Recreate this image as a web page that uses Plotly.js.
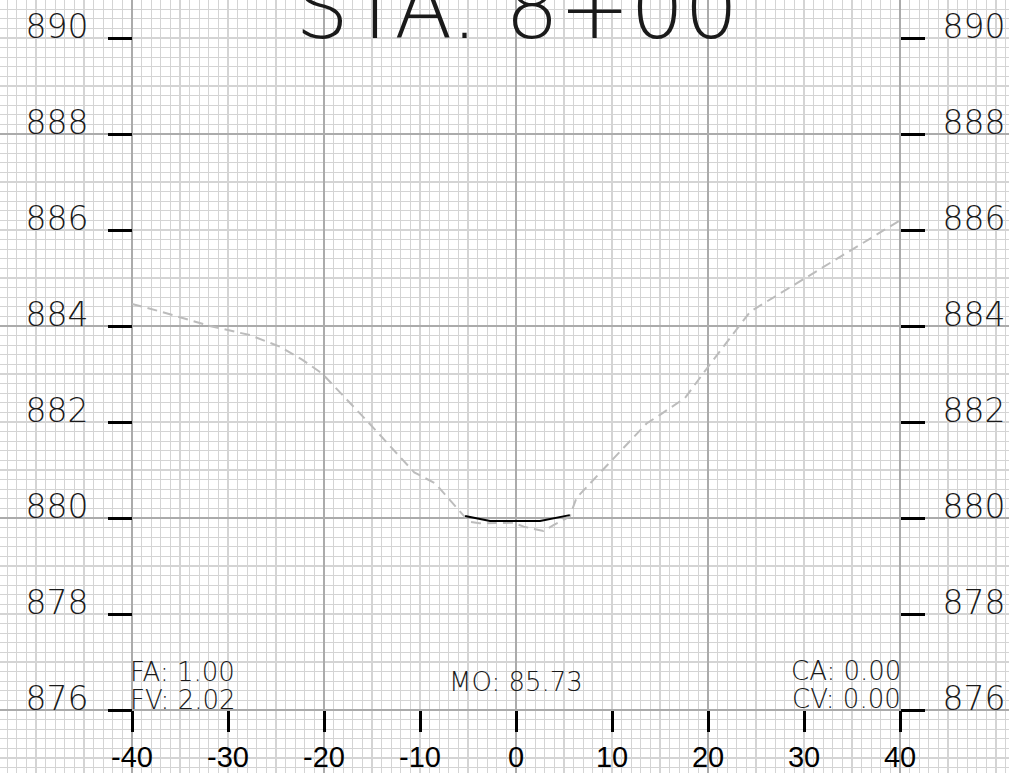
<!DOCTYPE html>
<html>
<head>
<meta charset="utf-8">
<script src="https://cdn.plot.ly/plotly-3.0.1.min.js"></script>
<style>
html,body{margin:0;padding:0;background:#fff;}
#chart{width:1009px;height:773px;}
</style>
</head>
<body>
<div id="chart"></div>
<script>
// ---- data ----
const groundOffset = [-40, -37, -31.9, -27.7, -24.6, -22.2, -20.2, -15.6, -10.6, -8.4, -5.5, -4.8, -3.8, -0.3, 0.8, 2.85, 3.9, 5.6, 6.3, 8.05, 11.9, 13.6, 15.0, 17.6, 19.9, 23.0, 24.4, 40];
const groundElev   = [884.46, 884.30, 884.00, 883.81, 883.57, 883.29, 883.01, 882.04, 880.95, 880.72, 880.06, 879.92, 879.89, 879.90, 879.82, 879.73, 879.85, 880.03, 880.42, 880.79, 881.62, 881.97, 882.15, 882.50, 883.12, 883.92, 884.30, 886.20];
const templateOffset = [-5.3, -2.7, 2.5, 5.6];
const templateElev   = [880.04, 879.94, 879.94, 880.06];
const offsetTicks = [-40, -30, -20, -10, 0, 10, 20, 30, 40];
const offsetTickText = ["-40", "-30", "-20", "-10", "0", "10", "20", "30", "40"];
const elevTicks = [876, 878, 880, 882, 884, 886, 888, 890];
const elevTickText = ["876", "878", "880", "882", "884", "886", "888", "890"];
const titleText = "STA. 8+00";
const noteFA = "FA: 1.00", noteFV = "FV: 2.02", noteMO = "MO: 85.73", noteCA = "CA: 0.00", noteCV = "CV: 0.00";

// ---- layout ----
const W = 1009, H = 773;
const xRange = [-53.75, 51.354];
const yRange = [874.6875, 890.7917];
const fineGrid = '#d4d4d4', majorGrid = '#ababab';
const cadFont = {family: 'DejaVu Sans, Inter, sans-serif', weight: 200, color: '#1a1a1a'};

const traces = [
  {x: groundOffset, y: groundElev, xaxis: 'x2', yaxis: 'y2', type: 'scatter', mode: 'lines',
   line: {color: '#bcbcbc', width: 2, dash: '10px,6px'}, hoverinfo: 'skip', showlegend: false},
  {x: templateOffset, y: templateElev, xaxis: 'x2', yaxis: 'y3', type: 'scatter', mode: 'lines',
   line: {color: '#000000', width: 2}, hoverinfo: 'skip', showlegend: false}
];

const baseY = {
  range: yRange, showline: false, zeroline: false, fixedrange: true
};

const layout = {
  width: W, height: H,
  margin: {l: 0, r: 0, t: 0, b: 0, pad: 0},
  paper_bgcolor: '#ffffff', plot_bgcolor: '#ffffff',
  showlegend: false,
  xaxis: {
    range: xRange, showline: false, zeroline: false, fixedrange: true,
    showgrid: true, gridcolor: majorGrid, gridwidth: 1.4, tick0: 0, dtick: 20,
    ticks: '', showticklabels: false,
    minor: {tick0: 0, dtick: 1, showgrid: true, gridcolor: fineGrid, gridwidth: 1.3, ticks: ''}
  },
  yaxis: Object.assign({}, baseY, {
    showgrid: true, gridcolor: majorGrid, gridwidth: 1.4, tick0: 876, dtick: 4,
    ticks: '', showticklabels: false,
    minor: {tick0: 876, dtick: 0.2, showgrid: true, gridcolor: fineGrid, gridwidth: 1.3, ticks: ''}
  }),
  xaxis2: {
    range: xRange, overlaying: 'x', anchor: 'free', position: 63 / H, side: 'bottom',
    showline: false, zeroline: false, showgrid: false, fixedrange: true,
    tickmode: 'array', tickvals: offsetTicks, ticktext: offsetTickText,
    ticks: 'outside', ticklen: 21, tickwidth: 3, tickcolor: '#000',
    tickfont: {family: 'Liberation Sans, Arial, sans-serif', size: 29, color: '#000'},
    ticklabelstandoff: 0
  },
  yaxis2: Object.assign({}, baseY, {
    overlaying: 'y', anchor: 'free', position: 132 / W, side: 'left', showgrid: false,
    tickmode: 'array', tickvals: elevTicks, ticktext: elevTickText,
    ticks: 'outside', ticklen: 24, tickwidth: 3, tickcolor: '#000',
    tickfont: Object.assign({size: 33}, cadFont),
    ticklabelshift: -12, ticklabelstandoff: 13
  }),
  yaxis3: Object.assign({}, baseY, {
    overlaying: 'y', anchor: 'free', position: 900 / W, side: 'right', showgrid: false,
    tickmode: 'array', tickvals: elevTicks, ticktext: elevTickText,
    ticks: 'outside', ticklen: 24, tickwidth: 3, tickcolor: '#000',
    tickfont: Object.assign({size: 33}, cadFont),
    ticklabelshift: -12, ticklabelstandoff: 11
  }),
  annotations: [
    {text: titleText, xref: 'x', yref: 'paper', x: 0, y: 1 - 8 / H, xanchor: 'center', yanchor: 'middle',
     showarrow: false, font: Object.assign({size: 85}, cadFont)},
    {text: noteFA, xref: 'x', yref: 'y', x: -40, y: 876.79, xanchor: 'left', yanchor: 'middle', showarrow: false,
     xshift: -4, font: Object.assign({size: 26}, cadFont)},
    {text: noteFV, xref: 'x', yref: 'y', x: -40, y: 876.21, xanchor: 'left', yanchor: 'middle', showarrow: false,
     xshift: -4, font: Object.assign({size: 26}, cadFont)},
    {text: noteMO, xref: 'x', yref: 'y', x: 0, y: 876.58, xanchor: 'center', yanchor: 'middle', showarrow: false,
     font: Object.assign({size: 26}, cadFont)},
    {text: noteCA, xref: 'x', yref: 'y', x: 40, y: 876.81, xanchor: 'right', yanchor: 'middle', showarrow: false,
     xshift: 3, font: Object.assign({size: 26}, cadFont)},
    {text: noteCV, xref: 'x', yref: 'y', x: 40, y: 876.23, xanchor: 'right', yanchor: 'middle', showarrow: false,
     xshift: 3, font: Object.assign({size: 26}, cadFont)}
  ]
};

Plotly.newPlot('chart', traces, layout, {staticPlot: true, displayModeBar: false});
</script>
</body>
</html>
